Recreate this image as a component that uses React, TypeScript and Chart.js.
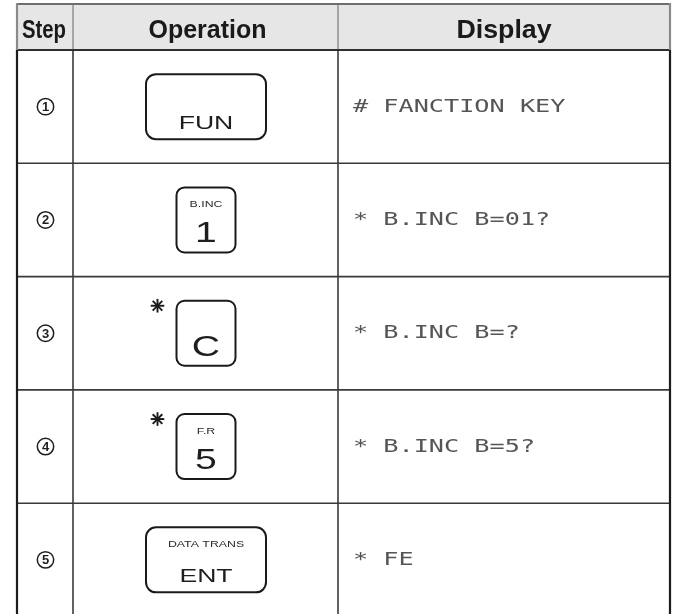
import React, { useEffect, useRef } from "react";
import { Chart, registerables } from "chart.js";

Chart.register(...registerables);

const headers = ["Step", "Operation", "Display"];
const steps = [1, 2, 3, 4, 5];
const keyMain = ["FUN", "1", "C", "5", "ENT"];
const keySub = ["", "B.INC", "", "F.R", "DATA TRANS"];
const keyStar = [false, false, true, true, false];
const keyWide = [true, false, false, false, true];
const displayTexts = [
  "# FANCTION KEY",
  "* B.INC B=01?",
  "* B.INC B=?",
  "* B.INC B=5?",
  "* FE",
];

const W = 673;
const H = 614;

function stretchedText(
  ctx: CanvasRenderingContext2D,
  text: string,
  x: number,
  baseline: number,
  font: string,
  sx: number,
  color: string,
  align: CanvasTextAlign = "center"
) {
  ctx.save();
  ctx.font = font;
  ctx.fillStyle = color;
  ctx.textAlign = align;
  ctx.textBaseline = "alphabetic";
  ctx.translate(x, baseline);
  ctx.scale(sx, 1);
  ctx.fillText(text, 0, 0);
  ctx.restore();
}

function roundRect(ctx: CanvasRenderingContext2D, x: number, y: number, w: number, h: number, r: number) {
  ctx.beginPath();
  ctx.moveTo(x + r, y);
  ctx.lineTo(x + w - r, y);
  ctx.arcTo(x + w, y, x + w, y + r, r);
  ctx.lineTo(x + w, y + h - r);
  ctx.arcTo(x + w, y + h, x + w - r, y + h, r);
  ctx.lineTo(x + r, y + h);
  ctx.arcTo(x, y + h, x, y + h - r, r);
  ctx.lineTo(x, y + r);
  ctx.arcTo(x, y, x + r, y, r);
  ctx.closePath();
}

const tablePlugin = {
  id: "tablePlugin",
  afterDraw(chart: any) {
    const ctx: CanvasRenderingContext2D = chart.ctx;
    const xs = chart.scales.x;
    const ys = chart.scales.y;
    const px = (v: number) => xs.getPixelForValue(v);
    const py = (v: number) => ys.getPixelForValue(v);

    const colEdges = [17, 73, 338, 670];
    const top = 4;
    const headBottom = 50;
    const rowH = 113.3;
    const rowTop = (i: number) => headBottom + i * rowH;

    ctx.save();
    ctx.fillStyle = "#ffffff";
    ctx.fillRect(0, 0, W, H);

    // header background
    ctx.fillStyle = "#e6e6e7";
    ctx.fillRect(px(colEdges[0]), py(top), px(colEdges[3]) - px(colEdges[0]), py(headBottom) - py(top));

    // header text
    const headCenters = [
      (colEdges[0] + colEdges[1]) / 2 - 1,
      (colEdges[1] + colEdges[2]) / 2 + 2,
      (colEdges[2] + colEdges[3]) / 2,
    ];
    ctx.fillStyle = "#1a1a1a";
    ctx.font = "bold 25px 'Liberation Sans', Arial, sans-serif";
    ctx.textAlign = "center";
    ctx.textBaseline = "alphabetic";
    headers.forEach((h, i) => {
      if (i === 0) ctx.fillText(h, px(headCenters[i]), py(37.5), 44);
      else if (i === 2) stretchedText(ctx, h, px(headCenters[i]), py(37.5), ctx.font, 1.07, "#1a1a1a");
      else ctx.fillText(h, px(headCenters[i]), py(37.5));
    });

    // row lines
    ctx.strokeStyle = "#3a3a3a";
    ctx.lineWidth = 1.6;
    for (let i = 1; i < steps.length; i++) {
      const y = py(rowTop(i));
      ctx.beginPath();
      ctx.moveTo(px(colEdges[0]), y);
      ctx.lineTo(px(colEdges[3]), y);
      ctx.stroke();
    }

    // vertical inner lines
    for (const cx of [colEdges[1], colEdges[2]]) {
      ctx.strokeStyle = "#8a8a8a";
      ctx.lineWidth = 1.4;
      ctx.beginPath();
      ctx.moveTo(px(cx), py(top));
      ctx.lineTo(px(cx), py(headBottom));
      ctx.stroke();
      ctx.strokeStyle = "#3a3a3a";
      ctx.lineWidth = 1.6;
      ctx.beginPath();
      ctx.moveTo(px(cx), py(headBottom));
      ctx.lineTo(px(cx), H);
      ctx.stroke();
    }

    // top border
    ctx.strokeStyle = "#6e6e6e";
    ctx.lineWidth = 2;
    ctx.beginPath();
    ctx.moveTo(px(colEdges[0]), py(top));
    ctx.lineTo(px(colEdges[3]), py(top));
    ctx.stroke();

    // header bottom
    ctx.strokeStyle = "#2e2e2e";
    ctx.lineWidth = 2;
    ctx.beginPath();
    ctx.moveTo(px(colEdges[0]), py(headBottom));
    ctx.lineTo(px(colEdges[3]), py(headBottom));
    ctx.stroke();

    // outer left/right
    ctx.lineWidth = 2.2;
    for (const cx of [colEdges[0], colEdges[3]]) {
      ctx.strokeStyle = "#8a8a8a";
      ctx.beginPath();
      ctx.moveTo(px(cx), py(top - 1));
      ctx.lineTo(px(cx), py(headBottom));
      ctx.stroke();
      ctx.strokeStyle = "#1c1c1c";
      ctx.beginPath();
      ctx.moveTo(px(cx), py(headBottom));
      ctx.lineTo(px(cx), H);
      ctx.stroke();
    }

    const opCenter = (colEdges[1] + colEdges[2]) / 2 + 0.5;
    const stepCenter = (colEdges[0] + colEdges[1]) / 2 + 0.5;

    steps.forEach((s, i) => {
      const t = rowTop(i);
      const cy = t + rowH / 2;

      // circled step number
      ctx.strokeStyle = "#1e1e1e";
      ctx.lineWidth = 1.5;
      ctx.beginPath();
      ctx.arc(px(stepCenter), py(cy), 8.2, 0, Math.PI * 2);
      ctx.stroke();
      ctx.fillStyle = "#1e1e1e";
      ctx.font = "bold 13px 'Liberation Sans', Arial, sans-serif";
      ctx.textAlign = "center";
      ctx.textBaseline = "middle";
      ctx.fillText(String(s), px(stepCenter), py(cy + 0.8));

      // key
      const kw = keyWide[i] ? 120 : 59;
      const kh = 65;
      const kx = opCenter - kw / 2;
      const ky = cy - kh / 2;
      ctx.strokeStyle = "#1a1a1a";
      ctx.lineWidth = 2;
      roundRect(ctx, px(kx), py(ky), kw, kh, keyWide[i] ? 10 : 8);
      ctx.stroke();

      if (keySub[i]) {
        stretchedText(
          ctx,
          keySub[i],
          px(opCenter),
          py(ky + 20),
          "8.5px 'Liberation Sans', Arial, sans-serif",
          1.45,
          "#2a2a2a"
        );
      }
      const mainSize = keyWide[i] ? 19 : 29;
      stretchedText(
        ctx,
        keyMain[i],
        px(opCenter),
        py(ky + 55),
        `${mainSize}px 'Liberation Sans', Arial, sans-serif`,
        keyWide[i] ? 1.4 : 1.35,
        "#1e1e1e"
      );

      // asterisk before key
      if (keyStar[i]) {
        const ax = kx - 19;
        const ay = ky + 5;
        const r = 6.8;
        ctx.strokeStyle = "#1a1a1a";
        ctx.lineWidth = 1.9;
        for (let k = 0; k < 4; k++) {
          const a = (k * Math.PI) / 4;
          ctx.beginPath();
          ctx.moveTo(px(ax - r * Math.cos(a)), py(ay - r * Math.sin(a)));
          ctx.lineTo(px(ax + r * Math.cos(a)), py(ay + r * Math.sin(a)));
          ctx.stroke();
        }
      }

      // display text (wide dot-matrix style)
      stretchedText(
        ctx,
        displayTexts[i],
        px(353),
        py(cy + 5),
        "18px 'DejaVu Sans Mono', monospace",
        1.4,
        "#555555",
        "left"
      );
    });

    ctx.restore();
  },
};

export default function App() {
  const ref = useRef<HTMLCanvasElement | null>(null);
  useEffect(() => {
    document.body.style.margin = "0";
    const canvas = ref.current;
    if (!canvas) return;
    const chart = new Chart(canvas, {
      type: "scatter",
      data: { datasets: [] },
      options: {
        animation: false,
        responsive: false,
        events: [],
        layout: { padding: 0 },
        plugins: { legend: { display: false }, tooltip: { enabled: false } },
        scales: {
          x: { type: "linear", display: false, min: 0, max: W },
          y: { type: "linear", display: false, min: 0, max: H, reverse: true },
        },
      },
      plugins: [tablePlugin],
    } as any);
    return () => chart.destroy();
  }, []);
  return (
    <div style={{ width: W, height: H }}>
      <canvas ref={ref} width={W} height={H} style={{ display: "block", width: W, height: H }} />
    </div>
  );
}
